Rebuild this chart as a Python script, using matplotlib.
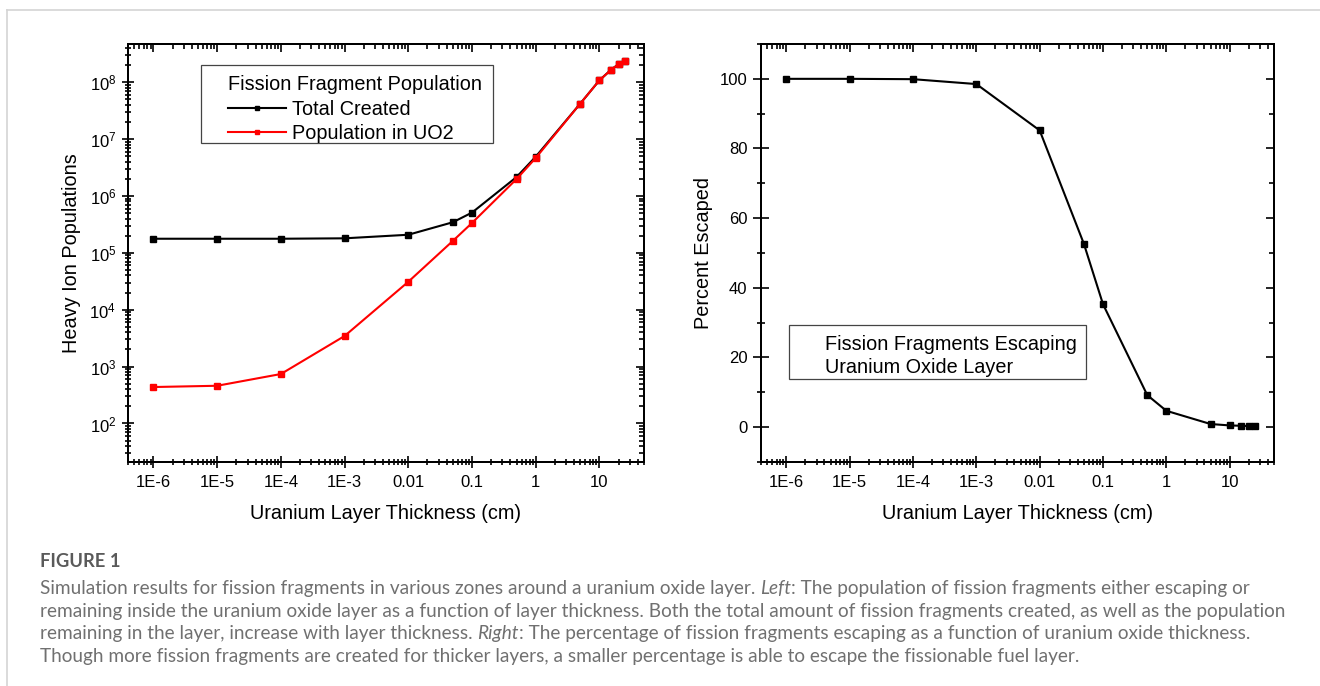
import matplotlib
matplotlib.use("Agg")
import matplotlib.pyplot as plt
from matplotlib.lines import Line2D
from matplotlib.patches import Rectangle
from matplotlib.ticker import LogLocator, FixedLocator, NullFormatter, MultipleLocator

# ----------------------------------------------
# data

thickness = [1e-6, 1e-5, 1e-4, 1e-3, 0.01, 0.05, 0.1, 0.5, 1, 5, 10, 15, 20, 25]
totalCreated = [1.77e5, 1.77e5, 1.77e5, 1.80e5, 2.08e5, 3.45e5, 5.1e5, 2.15e6, 4.9e6,
                4.2e7, 1.08e8, 1.63e8, 2.08e8, 2.35e8]
popInUO2 = [437, 460, 740, 3450, 3.1e4, 1.62e5, 3.35e5, 1.98e6, 4.65e6,
            4.2e7, 1.08e8, 1.63e8, 2.08e8, 2.35e8]
percentEscaped = [100, 100, 99.9, 98.5, 85.2, 52.6, 35.3, 9.2, 4.7, 0.9, 0.5, 0.4, 0.3, 0.3]

xTickValues = [1e-6, 1e-5, 1e-4, 1e-3, 0.01, 0.1, 1, 10]
xTickLabels = ["1E-6", "1E-5", "1E-4", "1E-3", "0.01", "0.1", "1", "10"]
yDecades = [1e2, 1e3, 1e4, 1e5, 1e6, 1e7, 1e8]
yDecadeLabels = [r"$\mathregular{10^{%d}}$" % p for p in range(2, 9)]
pctTicks = [0, 20, 40, 60, 80, 100]

rightNote = ["Fission Fragments Escaping", "Uranium Oxide Layer"]

captionTitle = "FIGURE 1"
captionLines = [
  [("Simulation results for fission fragments in various zones around a uranium oxide layer. ", "normal"),
   ("Left", "italic"),
   (": The population of fission fragments either escaping or", "normal")],
  [("remaining inside the uranium oxide layer as a function of layer thickness. Both the total amount of fission fragments created, as well as the population", "normal")],
  [("remaining in the layer, increase with layer thickness. ", "normal"),
   ("Right", "italic"),
   (": The percentage of fission fragments escaping as a function of uranium oxide thickness.", "normal")],
  [("Though more fission fragments are created for thicker layers, a smaller percentage is able to escape the fissionable fuel layer.", "normal")],
]

# ----------------------------------------------

W, H = 1320, 686
LABEL_SIZE = 14.3
TICK_SIZE = 12
plt.rcParams['font.family'] = ['Liberation Sans', 'DejaVu Sans']
plt.rcParams['axes.linewidth'] = 1.3

fig = plt.figure(figsize=(W / 100, H / 100), dpi=100)

def figBox(x0, y0, x1, y1):
  return [x0 / W, 1 - y1 / H, (x1 - x0) / W, (y1 - y0) / H]

def pixBox(axis, x0, y0, x1, y1):
  # legend frame drawn by hand, Origin style has uneven padding
  axis.add_patch(Rectangle((x0 / W, 1 - y1 / H), (x1 - x0) / W, (y1 - y0) / H,
                           transform=fig.transFigure, facecolor='white',
                           edgecolor='#444444', lw=0.9, zorder=4.5, clip_on=False))

XLIM = (10 ** -6.4, 10 ** 1.7)

def logXTicks(axis):
  axis.set_xscale('log')
  axis.set_xlim(XLIM)
  axis.xaxis.set_major_locator(FixedLocator(xTickValues))
  axis.xaxis.set_minor_locator(LogLocator(base=10, subs=range(2, 10), numticks=30))
  axis.xaxis.set_minor_formatter(NullFormatter())

def styleTicks(axis, majorLen=8, minorLen=4.5):
  axis.tick_params(which='both', direction='inout', width=1.2, labelsize=TICK_SIZE,
                   top=False, right=False, pad=5.5)
  axis.tick_params(which='major', length=majorLen)
  axis.tick_params(which='minor', length=minorLen)

def innerTicks(axis, which_axis):
  axis.tick_params(axis=which_axis, which='both', direction='in', width=1.2,
                   labeltop=False, labelright=False)
  axis.tick_params(axis=which_axis, which='major', length=6)
  axis.tick_params(axis=which_axis, which='minor', length=3.5)

# ---------------- left panel ------------------

axL = fig.add_axes(figBox(128, 44, 644, 462))
axL.plot(thickness, totalCreated, '-s', color='black', lw=1.5, ms=4, label='Total Created')
axL.plot(thickness, popInUO2, '-s', color='red', lw=1.5, ms=4, label='Population in UO2')
logXTicks(axL)
axL.set_xticklabels(xTickLabels)
axL.set_yscale('log')
axL.set_ylim(21, 4.7e8)
axL.yaxis.set_major_locator(FixedLocator(yDecades))
axL.set_yticklabels(yDecadeLabels)
axL.yaxis.set_minor_locator(LogLocator(base=10, subs=range(2, 10), numticks=30))
axL.yaxis.set_minor_formatter(NullFormatter())
styleTicks(axL)
axL.tick_params(axis='y', pad=4.5)
axL.set_xlabel('Uranium Layer Thickness (cm)', fontsize=LABEL_SIZE, labelpad=10)
axL.set_ylabel('Heavy Ion Populations', fontsize=LABEL_SIZE, labelpad=6)

pixBox(axL, 201, 65, 493, 143)
legL = axL.legend(title='Fission Fragment Population', loc='upper left',
                  bbox_to_anchor=(228 / W, 1 - 75 / H), bbox_transform=fig.transFigure,
                  fontsize=LABEL_SIZE, title_fontsize=LABEL_SIZE, frameon=False,
                  handlelength=2.9, handletextpad=0.3, borderpad=0, labelspacing=0.28,
                  alignment='left', borderaxespad=0, markerscale=0.7)
legL.set_zorder(5)

# inward ticks on the top and right side
topL = axL.twiny()
logXTicks(topL)
innerTicks(topL, 'x')
rightL = axL.twinx()
rightL.set_yscale('log')
rightL.set_ylim(axL.get_ylim())
rightL.yaxis.set_major_locator(FixedLocator(yDecades))
rightL.yaxis.set_minor_locator(LogLocator(base=10, subs=range(2, 10), numticks=30))
rightL.yaxis.set_minor_formatter(NullFormatter())
innerTicks(rightL, 'y')

# ---------------- right panel -----------------

axR = fig.add_axes(figBox(761, 44, 1274, 462))
axR.plot(thickness, percentEscaped, '-s', color='black', lw=1.5, ms=4)
logXTicks(axR)
axR.set_xticklabels(xTickLabels)
axR.set_ylim(-10, 110)
axR.yaxis.set_major_locator(FixedLocator(pctTicks))
axR.yaxis.set_minor_locator(MultipleLocator(10))
styleTicks(axR)
axR.tick_params(axis='y', which='major', length=11.5, pad=4)
axR.tick_params(axis='y', which='minor', length=6)
axR.set_xlabel('Uranium Layer Thickness (cm)', fontsize=LABEL_SIZE, labelpad=10)
axR.set_ylabel('Percent Escaped', fontsize=LABEL_SIZE, labelpad=5)

pixBox(axR, 789, 325, 1086, 379)
for i, line in enumerate(rightNote):
  axR.text(825 / W, 1 - (350 + i * 23.5) / H, line, fontsize=LABEL_SIZE,
           va='baseline', transform=fig.transFigure, zorder=6)

topR = axR.twiny()
logXTicks(topR)
innerTicks(topR, 'x')
rightR = axR.twinx()
rightR.set_ylim(axR.get_ylim())
rightR.yaxis.set_major_locator(FixedLocator(pctTicks))
rightR.yaxis.set_minor_locator(MultipleLocator(10))
innerTicks(rightR, 'y')

# ---------------- frame and caption -----------

fig.add_artist(Line2D([7 / W, 1], [1 - 10 / H, 1 - 10 / H], color='#d4d4d4', lw=1.2))
fig.add_artist(Line2D([7 / W, 7 / W], [0, 1 - 10 / H], color='#d4d4d4', lw=1.2))

capFont = ['Lato', 'DejaVu Sans']
capColor = '#707070'
fig.text(40 / W, 1 - 567 / H, captionTitle, family=capFont, fontsize=13.2, weight='bold',
         color='#5a5a5a', va='baseline')

renderer = fig.canvas.get_renderer()
baseY = 594
pitch = 22.6
for i, line in enumerate(captionLines):
  xPix = 40
  yFrac = 1 - (baseY + i * pitch) / H
  for text, style in line:
    t = fig.text(xPix / W, yFrac, text, family=capFont, fontsize=13.7, style=style,
                 color=capColor, va='baseline')
    xPix += t.get_window_extent(renderer).width

fig.savefig('out.png', dpi=100)
